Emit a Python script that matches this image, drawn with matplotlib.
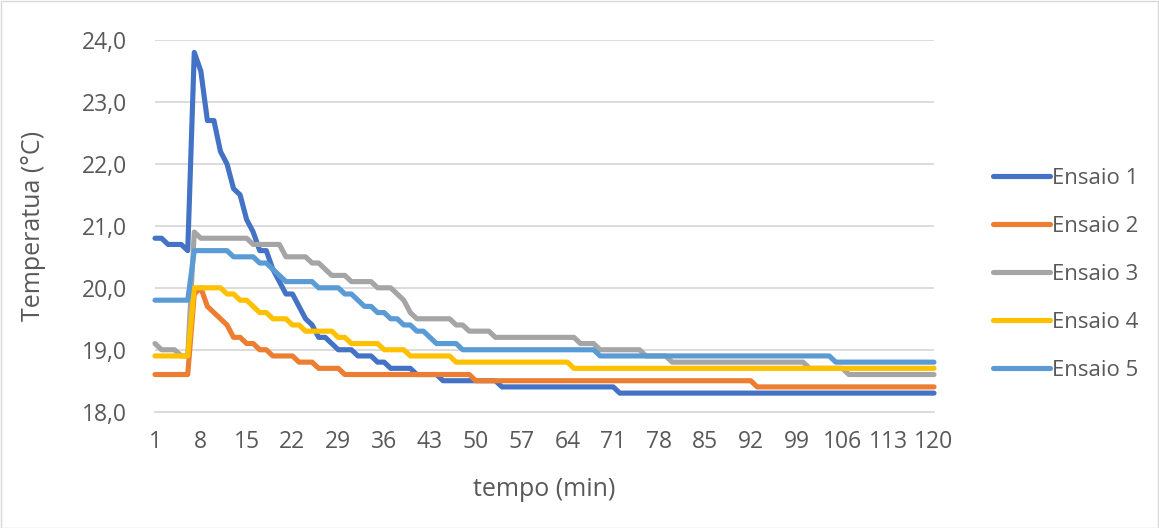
import matplotlib
matplotlib.use("Agg")
import matplotlib.pyplot as plt
from matplotlib.patches import Rectangle
from matplotlib.ticker import FuncFormatter

minutes = list(range(1, 121))

ensaio_1 = [
    20.8, 20.8, 20.7, 20.7, 20.7, 20.6, 23.8, 23.5, 22.7, 22.7,
    22.2, 22.0, 21.6, 21.5, 21.1, 20.9, 20.6, 20.6, 20.3, 20.1,
    19.9, 19.9, 19.7, 19.5, 19.4, 19.2, 19.2, 19.1, 19.0, 19.0,
    19.0, 18.9, 18.9, 18.9, 18.8, 18.8, 18.7, 18.7, 18.7, 18.7,
    18.6, 18.6, 18.6, 18.6, 18.5, 18.5, 18.5, 18.5, 18.5, 18.5,
    18.5, 18.5, 18.5, 18.4, 18.4, 18.4, 18.4, 18.4, 18.4, 18.4,
    18.4, 18.4, 18.4, 18.4, 18.4, 18.4, 18.4, 18.4, 18.4, 18.4,
    18.4, 18.3, 18.3, 18.3, 18.3, 18.3, 18.3, 18.3, 18.3, 18.3,
    18.3, 18.3, 18.3, 18.3, 18.3, 18.3, 18.3, 18.3, 18.3, 18.3,
    18.3, 18.3, 18.3, 18.3, 18.3, 18.3, 18.3, 18.3, 18.3, 18.3,
    18.3, 18.3, 18.3, 18.3, 18.3, 18.3, 18.3, 18.3, 18.3, 18.3,
    18.3, 18.3, 18.3, 18.3, 18.3, 18.3, 18.3, 18.3, 18.3, 18.3,
]

ensaio_2 = [
    18.6, 18.6, 18.6, 18.6, 18.6, 18.6, 19.9, 20.0, 19.7, 19.6,
    19.5, 19.4, 19.2, 19.2, 19.1, 19.1, 19.0, 19.0, 18.9, 18.9,
    18.9, 18.9, 18.8, 18.8, 18.8, 18.7, 18.7, 18.7, 18.7, 18.6,
    18.6, 18.6, 18.6, 18.6, 18.6, 18.6, 18.6, 18.6, 18.6, 18.6,
    18.6, 18.6, 18.6, 18.6, 18.6, 18.6, 18.6, 18.6, 18.6, 18.5,
    18.5, 18.5, 18.5, 18.5, 18.5, 18.5, 18.5, 18.5, 18.5, 18.5,
    18.5, 18.5, 18.5, 18.5, 18.5, 18.5, 18.5, 18.5, 18.5, 18.5,
    18.5, 18.5, 18.5, 18.5, 18.5, 18.5, 18.5, 18.5, 18.5, 18.5,
    18.5, 18.5, 18.5, 18.5, 18.5, 18.5, 18.5, 18.5, 18.5, 18.5,
    18.5, 18.5, 18.4, 18.4, 18.4, 18.4, 18.4, 18.4, 18.4, 18.4,
    18.4, 18.4, 18.4, 18.4, 18.4, 18.4, 18.4, 18.4, 18.4, 18.4,
    18.4, 18.4, 18.4, 18.4, 18.4, 18.4, 18.4, 18.4, 18.4, 18.4,
]

ensaio_3 = [
    19.1, 19.0, 19.0, 19.0, 18.9, 18.9, 20.9, 20.8, 20.8, 20.8,
    20.8, 20.8, 20.8, 20.8, 20.8, 20.7, 20.7, 20.7, 20.7, 20.7,
    20.5, 20.5, 20.5, 20.5, 20.4, 20.4, 20.3, 20.2, 20.2, 20.2,
    20.1, 20.1, 20.1, 20.1, 20.0, 20.0, 20.0, 19.9, 19.8, 19.6,
    19.5, 19.5, 19.5, 19.5, 19.5, 19.5, 19.4, 19.4, 19.3, 19.3,
    19.3, 19.3, 19.2, 19.2, 19.2, 19.2, 19.2, 19.2, 19.2, 19.2,
    19.2, 19.2, 19.2, 19.2, 19.2, 19.1, 19.1, 19.1, 19.0, 19.0,
    19.0, 19.0, 19.0, 19.0, 19.0, 18.9, 18.9, 18.9, 18.9, 18.8,
    18.8, 18.8, 18.8, 18.8, 18.8, 18.8, 18.8, 18.8, 18.8, 18.8,
    18.8, 18.8, 18.8, 18.8, 18.8, 18.8, 18.8, 18.8, 18.8, 18.8,
    18.7, 18.7, 18.7, 18.7, 18.7, 18.7, 18.6, 18.6, 18.6, 18.6,
    18.6, 18.6, 18.6, 18.6, 18.6, 18.6, 18.6, 18.6, 18.6, 18.6,
]

ensaio_4 = [
    18.9, 18.9, 18.9, 18.9, 18.9, 18.9, 20.0, 20.0, 20.0, 20.0,
    20.0, 19.9, 19.9, 19.8, 19.8, 19.7, 19.6, 19.6, 19.5, 19.5,
    19.5, 19.4, 19.4, 19.3, 19.3, 19.3, 19.3, 19.3, 19.2, 19.2,
    19.1, 19.1, 19.1, 19.1, 19.1, 19.0, 19.0, 19.0, 19.0, 18.9,
    18.9, 18.9, 18.9, 18.9, 18.9, 18.9, 18.8, 18.8, 18.8, 18.8,
    18.8, 18.8, 18.8, 18.8, 18.8, 18.8, 18.8, 18.8, 18.8, 18.8,
    18.8, 18.8, 18.8, 18.8, 18.7, 18.7, 18.7, 18.7, 18.7, 18.7,
    18.7, 18.7, 18.7, 18.7, 18.7, 18.7, 18.7, 18.7, 18.7, 18.7,
    18.7, 18.7, 18.7, 18.7, 18.7, 18.7, 18.7, 18.7, 18.7, 18.7,
    18.7, 18.7, 18.7, 18.7, 18.7, 18.7, 18.7, 18.7, 18.7, 18.7,
    18.7, 18.7, 18.7, 18.7, 18.7, 18.7, 18.7, 18.7, 18.7, 18.7,
    18.7, 18.7, 18.7, 18.7, 18.7, 18.7, 18.7, 18.7, 18.7, 18.7,
]

ensaio_5 = [
    19.8, 19.8, 19.8, 19.8, 19.8, 19.8, 20.6, 20.6, 20.6, 20.6,
    20.6, 20.6, 20.5, 20.5, 20.5, 20.5, 20.4, 20.4, 20.3, 20.2,
    20.1, 20.1, 20.1, 20.1, 20.1, 20.0, 20.0, 20.0, 20.0, 19.9,
    19.9, 19.8, 19.7, 19.7, 19.6, 19.6, 19.5, 19.5, 19.4, 19.4,
    19.3, 19.3, 19.2, 19.1, 19.1, 19.1, 19.1, 19.0, 19.0, 19.0,
    19.0, 19.0, 19.0, 19.0, 19.0, 19.0, 19.0, 19.0, 19.0, 19.0,
    19.0, 19.0, 19.0, 19.0, 19.0, 19.0, 19.0, 19.0, 18.9, 18.9,
    18.9, 18.9, 18.9, 18.9, 18.9, 18.9, 18.9, 18.9, 18.9, 18.9,
    18.9, 18.9, 18.9, 18.9, 18.9, 18.9, 18.9, 18.9, 18.9, 18.9,
    18.9, 18.9, 18.9, 18.9, 18.9, 18.9, 18.9, 18.9, 18.9, 18.9,
    18.9, 18.9, 18.9, 18.9, 18.8, 18.8, 18.8, 18.8, 18.8, 18.8,
    18.8, 18.8, 18.8, 18.8, 18.8, 18.8, 18.8, 18.8, 18.8, 18.8,
]

series_names = ["Ensaio 1", "Ensaio 2", "Ensaio 3", "Ensaio 4", "Ensaio 5"]
series_values = [ensaio_1, ensaio_2, ensaio_3, ensaio_4, ensaio_5]
series_colors = ["#4472C4", "#ED7D31", "#A5A5A5", "#FFC000", "#5B9BD5"]

x_ticks = list(range(1, 121, 7))
y_ticks = [18.0, 19.0, 20.0, 21.0, 22.0, 23.0, 24.0]

plt.rcParams["font.family"] = ["Open Sans", "DejaVu Sans"]
text_color = "#595959"
grid_color = "#D9D9D9"
fs_tick = 16.5
fs_title = 18
fs_leg = 16

W, H = 1159, 528
fig = plt.figure(figsize=(W / 100, H / 100), dpi=100)
fig.patch.set_facecolor("white")
fig.patches.append(Rectangle((0.5 / W, 0.5 / H), 1 - 1.5 / W, 1 - 1.5 / H,
                             transform=fig.transFigure, fill=False,
                             edgecolor=grid_color, linewidth=1.0))

left_px, right_px = 155, 934
top_px, bottom_px = 40, 411.7
ax = fig.add_axes([left_px / W, 1 - bottom_px / H,
                   (right_px - left_px) / W, (bottom_px - top_px) / H])

for name, vals, col in zip(series_names, series_values, series_colors):
    ax.plot(minutes, vals, color=col, lw=3.7, label=name,
            solid_joinstyle="round", solid_capstyle="round", zorder=3,
            clip_on=False)

ax.set_xlim(1, 120)
ax.set_ylim(18, 24)
ax.set_xticks(x_ticks)
ax.set_xticklabels([str(t) for t in x_ticks])
ax.set_yticks(y_ticks)
ax.yaxis.set_major_formatter(FuncFormatter(lambda v, p: f"{v:.1f}".replace(".", ",")))

ax.grid(axis="y", color=grid_color, lw=1.3, zorder=0)
for s in ["top", "right", "left"]:
    ax.spines[s].set_visible(False)
ax.spines["bottom"].set_color(grid_color)
ax.spines["bottom"].set_linewidth(1.3)
ax.spines["bottom"].set_zorder(0)
ax.tick_params(axis="both", length=0, labelsize=fs_tick, colors=text_color)
ax.tick_params(axis="x", pad=13)
ax.tick_params(axis="y", pad=20)

ax.set_xlabel("tempo (min)", fontsize=fs_title, color=text_color, labelpad=17)
ax.set_ylabel("Temperatua (°C)", fontsize=fs_title, color=text_color, labelpad=26)

leg = fig.legend(loc="center left", bbox_to_anchor=(993 / W, 1 - 274.5 / H),
                 frameon=False, fontsize=fs_leg, handlelength=2.55,
                 handletextpad=0.1, labelspacing=1.21, borderaxespad=0,
                 borderpad=0)
for t in leg.get_texts():
    t.set_color(text_color)

fig.savefig("out.png", dpi=100)
